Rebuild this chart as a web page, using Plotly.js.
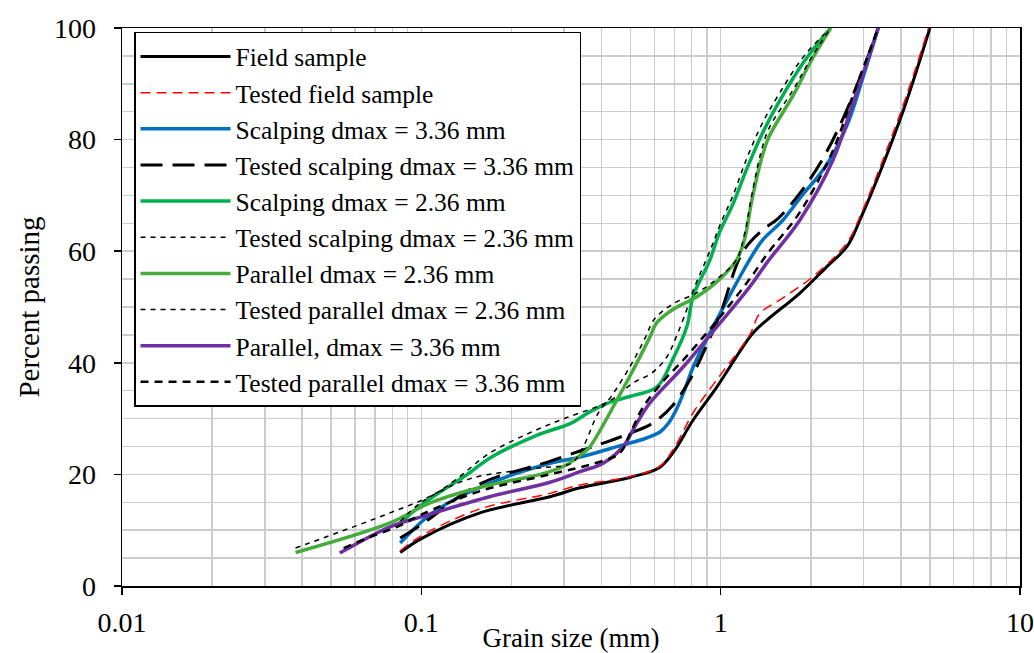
<!DOCTYPE html>
<html>
<head>
<meta charset="utf-8">
<script src="https://cdn.plot.ly/plotly-3.0.1.min.js"></script>
<style>html,body{margin:0;padding:0;background:#fff;}#chart{width:1034px;height:653px;}</style>
</head>
<body>
<div id="chart"></div>
<script>
// Field sample
const fieldX = [0.085,0.1,0.157,0.269,0.339,0.5,0.627,0.704,0.808,0.972,1.28,1.43,1.84,2.26,2.64,2.92,3.97,5.0];
const fieldY = [6,8.5,13.1,16,17.6,19.5,21.3,24.4,29.7,35.7,45.3,47.7,52.5,57.2,60.8,65.6,83.5,100];
// Tested field sample
const testedFieldX = [0.085,0.1,0.157,0.269,0.339,0.5,0.627,0.704,0.808,0.972,1.25,1.35,1.6,2.03,2.64,2.92,3.97,4.95];
const testedFieldY = [6.3,9,13.8,16.6,18.1,19.6,21.5,25,31,37,45,48.8,51.5,55.4,61.5,66.2,84.5,100];
// Scalping dmax = 3.36 mm
const scalp336X = [0.085,0.109,0.157,0.269,0.339,0.472,0.55,0.627,0.67,0.714,0.76,0.81,0.97,1.07,1.25,1.38,1.61,1.84,2.26,2.64,2.99,3.36];
const scalp336Y = [7.7,13.1,17.7,22,23.1,25.3,26.3,27.6,29.2,31.8,35.3,39.3,47.7,52,58.5,62,65.5,69.5,75.5,82.5,91.2,100];
// Tested scalping dmax = 3.36 mm
const testedScalp336X = [0.085,0.1,0.157,0.264,0.339,0.405,0.5,0.594,0.69,0.79,0.87,1.0,1.18,1.38,1.55,1.84,2.18,2.55,2.99,3.36];
const testedScalp336Y = [8.6,11,18.3,22.2,24.2,25.6,27.4,29.2,32.3,37,41.5,49,59.7,63.8,65.8,70.4,76.3,83.5,92.5,100];
// Scalping dmax = 2.36 mm
const scalp236X = [0.085,0.1,0.145,0.169,0.243,0.317,0.365,0.43,0.5,0.613,0.69,0.77,0.81,0.92,0.99,1.1,1.23,1.38,1.58,1.9,2.33];
const scalp236Y = [11.3,14.5,20.3,22.9,27,29.2,31.2,33,34,35.7,40.5,46.4,52,58.4,63.3,68.5,75.1,81.2,87.1,94,100];
// Tested scalping dmax = 2.36 mm
const testedScalp236X = [0.038,0.0786,0.109,0.13,0.169,0.243,0.3,0.43,0.51,0.59,0.66,0.71,0.77,0.81,0.92,1.0,1.1,1.23,1.38,1.58,1.9,2.33];
const testedScalp236Y = [6.8,13.1,16.3,19,23.8,28,30,33.3,36.4,38.2,41,44.6,49.5,53,60,65,70,77,83,88.5,95,100];
// Parallel dmax = 2.36 mm
const par236X = [0.038,0.0786,0.107,0.169,0.25,0.3,0.347,0.365,0.45,0.51,0.58,0.61,0.69,0.83,0.97,1.13,1.2,1.27,1.36,1.45,1.75,2.0,2.33];
const par236Y = [6,11.3,14.9,18.1,20,21.5,23.8,24.9,33.3,38.7,44.6,47.1,49.5,51.8,54.5,58.4,62,69,76,80.5,88,94,100];
// Tested parallel dmax = 2.36 mm
const testedPar236X = [0.085,0.1,0.145,0.243,0.317,0.347,0.39,0.43,0.5,0.56,0.6,0.69,0.83,0.97,1.13,1.2,1.27,1.36,1.45,1.75,2.0,2.33];
const testedPar236Y = [11.5,15,19.2,21.1,22,24.9,31,33.9,39.5,44.5,47.8,50.5,52.5,55,58.5,63,70,77.5,82,89,94.5,100];
// Parallel, dmax = 3.36 mm
const par336X = [0.0534,0.0786,0.1,0.169,0.269,0.339,0.405,0.472,0.525,0.58,0.748,0.97,1.25,1.43,1.84,2.37,2.77,3.1,3.36];
const par336Y = [5.9,10.6,12.4,16,18.6,20.5,22,25,29.2,32.8,39.2,46.4,53.6,58,65.6,76.3,86.6,94.3,100];
// Tested parallel dmax = 3.36 mm
const testedPar336X = [0.055,0.069,0.083,0.1,0.157,0.269,0.38,0.46,0.5,0.55,0.65,0.75,0.97,1.25,1.43,1.84,2.37,2.77,3.1,3.36];
const testedPar336Y = [6.8,9,10.6,12.8,17,20,22,23.8,27.5,32,37,40.5,47.5,55,59.5,67,78,88,95,100];

const xTickVals = [0.01,0.1,1,10];
const xTickText = ['0.01','0.1','1','10'];
const xMinorVals = [0.02,0.03,0.04,0.05,0.06,0.07,0.08,0.09,0.2,0.3,0.4,0.5,0.6,0.7,0.8,0.9,2,3,4,5,6,7,8,9];

const FONT = 'Liberation Serif, Times New Roman, serif';
const GRID = '#CCCCCC';
function tr(name, x, y, color, width, dash) {
  return {x: x, y: y, name: name, type: 'scatter', mode: 'lines',
    line: {color: color, width: width, dash: dash || 'solid', shape: 'spline', smoothing: 1}};
}
const data = [
  tr('Field sample', fieldX, fieldY, '#000000', 3),
  tr('Tested field sample', testedFieldX, testedFieldY, '#FF0000', 1.5, '10px,6px'),
  tr('Scalping dmax = 3.36 mm', scalp336X, scalp336Y, '#0070C0', 3.5),
  tr('Tested scalping dmax = 3.36 mm', testedScalp336X, testedScalp336Y, '#000000', 3, '22px,10px'),
  tr('Scalping dmax = 2.36 mm', scalp236X, scalp236Y, '#00B050', 3.5),
  tr('Tested scalping dmax = 2.36 mm', testedScalp236X, testedScalp236Y, '#000000', 1.5, '5px,5px'),
  tr('Parallel dmax = 2.36 mm', par236X, par236Y, '#45AB3A', 3.5),
  tr('Tested parallel dmax = 2.36 mm', testedPar236X, testedPar236Y, '#000000', 1.5, '5px,5px'),
  tr('Parallel, dmax = 3.36 mm', par336X, par336Y, '#7030A0', 3.5),
  tr('Tested parallel dmax = 3.36 mm', testedPar336X, testedPar336Y, '#000000', 2.5, '8px,6px')
];
const layout = {
  width: 1034, height: 653,
  margin: {l: 122, r: 14, t: 28, b: 67},
  paper_bgcolor: '#ffffff', plot_bgcolor: '#ffffff',
  font: {family: FONT, size: 25, color: '#000'},
  showlegend: true,
  legend: {x: 0.0134, y: 0.993, xanchor: 'left', yanchor: 'top',
    bgcolor: '#ffffff', bordercolor: '#000000', borderwidth: 1.5,
    font: {family: FONT, size: 25.5, color: '#000'}, itemwidth: 90, tracegroupgap: 0},
  xaxis: {type: 'log', range: [-2, 1], tickmode: 'array', tickvals: xTickVals, ticktext: xTickText,
    ticks: 'outside', ticklen: 7, tickwidth: 1.5, tickcolor: '#000', ticklabelstandoff: 4,
    showline: true, linecolor: '#000', linewidth: 1.5, mirror: true,
    showgrid: true, gridcolor: GRID, gridwidth: 1.5, zeroline: false,
    tickfont: {family: FONT, size: 28, color: '#000'},
    minor: {tickmode: 'array', tickvals: xMinorVals, showgrid: true, gridcolor: GRID, gridwidth: 1.5, ticks: ''},
    title: {text: 'Grain size (mm)', font: {family: FONT, size: 27, color: '#000'}, standoff: 0}},
  yaxis: {range: [0, 100], tickmode: 'linear', tick0: 0, dtick: 20,
    ticks: 'outside', ticklen: 7, tickwidth: 1.5, tickcolor: '#000', ticklabelstandoff: 12,
    showline: true, linecolor: '#000', linewidth: 1.5, mirror: true,
    showgrid: true, gridcolor: GRID, gridwidth: 1.5, zeroline: false,
    tickfont: {family: FONT, size: 28, color: '#000'},
    minor: {dtick: 5, showgrid: true, gridcolor: GRID, gridwidth: 1.5, ticks: ''},
    title: {text: 'Percent passing', font: {family: FONT, size: 29, color: '#000'}, standoff: 6}}
};
Plotly.newPlot('chart', data, layout, {displayModeBar: false, staticPlot: true});
</script>
</body>
</html>
